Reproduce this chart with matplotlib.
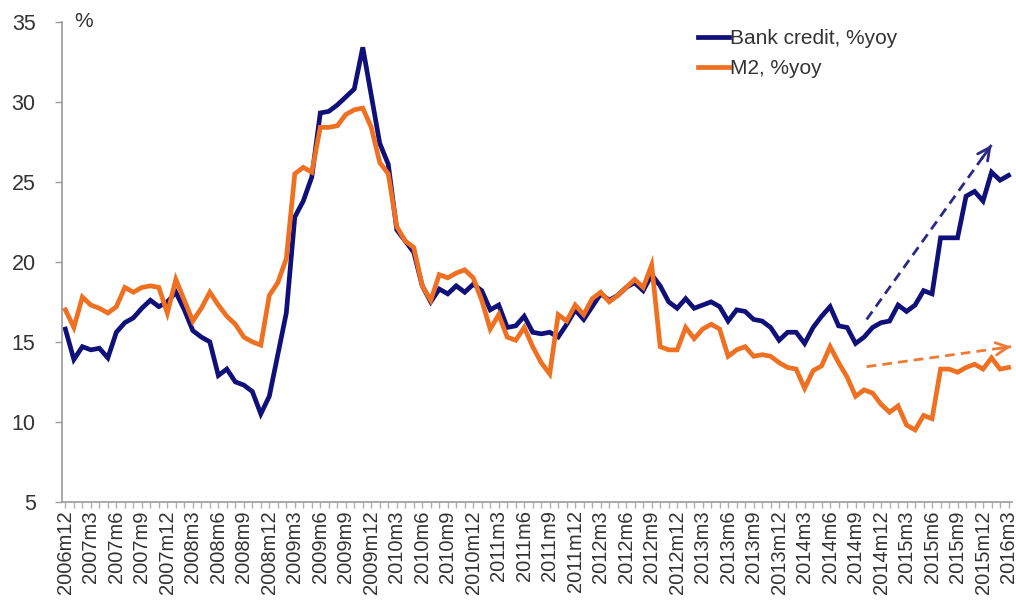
import matplotlib
matplotlib.use("Agg")
import matplotlib.pyplot as plt
import numpy as np

plt.rcParams['font.family'] = ['Liberation Sans', 'DejaVu Sans']

# monthly, 2006m12 .. 2016m3
bank_credit = [15.8, 13.9, 14.7, 14.5, 14.6, 14.0, 15.6, 16.2, 16.5, 17.1, 17.6, 17.2,
               17.5, 18.1, 17.0, 15.7, 15.3, 15.0, 12.9, 13.3, 12.5, 12.3, 11.9, 10.5,
               11.6, 14.2, 16.8, 22.8, 23.8, 25.3, 29.3, 29.4, 29.8, 30.3, 30.8, 33.4,
               30.4, 27.4, 26.1, 22.0, 21.3, 20.6, 18.5, 17.5, 18.3, 18.0, 18.5, 18.1,
               18.6, 18.2, 17.0, 17.3, 15.9, 16.0, 16.6, 15.6, 15.5, 15.6, 15.3, 16.1,
               17.0, 16.4, 17.2, 18.0, 17.6, 17.9, 18.4, 18.7, 18.2, 19.2, 18.5, 17.5,
               17.1, 17.7, 17.1, 17.3, 17.5, 17.2, 16.3, 17.0, 16.9, 16.4, 16.3, 15.9,
               15.1, 15.6, 15.6, 14.9, 15.9, 16.6, 17.2, 16.0, 15.9, 14.9, 15.3, 15.9,
               16.2, 16.3, 17.3, 16.9, 17.3, 18.2, 18.0, 21.5, 21.5, 21.5, 24.1, 24.4,
               23.8, 25.6, 25.1, 25.4]
m2 = [17.0, 15.9, 17.8, 17.3, 17.1, 16.8, 17.2, 18.4, 18.1, 18.4, 18.5, 18.4,
      16.8, 18.9, 17.6, 16.3, 17.1, 18.1, 17.3, 16.6, 16.1, 15.3, 15.0, 14.8,
      17.9, 18.7, 20.2, 25.5, 25.9, 25.6, 28.4, 28.4, 28.5, 29.2, 29.5, 29.6,
      28.4, 26.2, 25.5, 22.2, 21.3, 20.9, 18.5, 17.6, 19.2, 19.0, 19.3, 19.5,
      19.0, 17.6, 15.8, 16.7, 15.3, 15.1, 15.9, 14.7, 13.7, 13.0, 16.7, 16.3,
      17.3, 16.7, 17.7, 18.1, 17.5, 17.9, 18.4, 18.9, 18.4, 19.8, 14.7, 14.5,
      14.5, 15.9, 15.2, 15.8, 16.1, 15.8, 14.1, 14.5, 14.7, 14.1, 14.2, 14.1,
      13.7, 13.4, 13.3, 12.1, 13.2, 13.5, 14.7, 13.7, 12.8, 11.6, 12.0, 11.8,
      11.1, 10.6, 11.0, 9.8, 9.5, 10.4, 10.2, 13.3, 13.3, 13.1, 13.4, 13.6,
      13.3, 14.0, 13.3, 13.4]

tick_labels = ['2006m12', '2007m3', '2007m6', '2007m9', '2007m12', '2008m3', '2008m6',
               '2008m9', '2008m12', '2009m3', '2009m6', '2009m9', '2009m12', '2010m3',
               '2010m6', '2010m9', '2010m12', '2011m3', '2011m6', '2011m9', '2011m12',
               '2012m3', '2012m6', '2012m9', '2012m12', '2013m3', '2013m6', '2013m9',
               '2013m12', '2014m3', '2014m6', '2014m9', '2014m12', '2015m3', '2015m6',
               '2015m9', '2015m12', '2016m3']

# trend arrows (month index, value)
credit_arrow = [(94.3, 16.4), (109.0, 27.3)]
m2_arrow = [(94.3, 13.45), (111.3, 14.7)]

BLUE = '#10107a'
ORANGE = '#f07022'

x = np.arange(len(bank_credit))

fig = plt.figure(figsize=(10.16, 6.04), dpi=100)
ax = fig.add_axes([0.061, 0.169, 0.935, 0.795])

ax.plot(x, bank_credit, color=BLUE, lw=3.4, label='Bank credit, %yoy', solid_joinstyle='miter')
ax.plot(x, m2, color=ORANGE, lw=3.4, label='M2, %yoy', solid_joinstyle='miter')

for (p0, p1), c in [(credit_arrow, '#2a2a86'), (m2_arrow, '#f07a35')]:
    ax.plot([p0[0], p1[0]], [p0[1], p1[1]], color=c, lw=2, dashes=(3.5, 2.2), clip_on=False)
    dx, dy = p1[0] - p0[0], p1[1] - p0[1]
    ax.annotate('', xy=p1, xytext=(p1[0] - 0.08 * dx, p1[1] - 0.08 * dy),
                arrowprops=dict(arrowstyle='->', color=c, lw=2, mutation_scale=22,
                                shrinkA=0, shrinkB=0), annotation_clip=False)

ax.set_xlim(-0.4, 111.4)
ax.set_ylim(5, 35)
ax.set_yticks(range(5, 36, 5))
ax.set_xticks(x[::3])
ax.set_xticklabels(tick_labels, rotation=90)
ax.set_xticks(x, minor=True)

for s in ['top', 'right']:
    ax.spines[s].set_visible(False)
for s in ['left', 'bottom']:
    ax.spines[s].set_color('#9a9a9a')
    ax.spines[s].set_linewidth(1.2)

ax.tick_params(axis='y', length=5, width=1, color='#9a9a9a', pad=14, labelsize=15.5, labelcolor='#333333')
ax.tick_params(axis='x', which='both', length=4, width=1, color='#b0b0b0', pad=2, labelsize=14.5, labelcolor='#333333')

ax.text(1.1, 35, '%', fontsize=15, color='#333333', va='center', ha='left')

ax.legend(loc='upper left', bbox_to_anchor=(0.67, 0.985), frameon=False, fontsize=15,
          handlelength=1.45, handletextpad=0.05, labelspacing=0.55, borderpad=0, borderaxespad=0,
          labelcolor='#333333')

fig.savefig('out.png', dpi=100)
